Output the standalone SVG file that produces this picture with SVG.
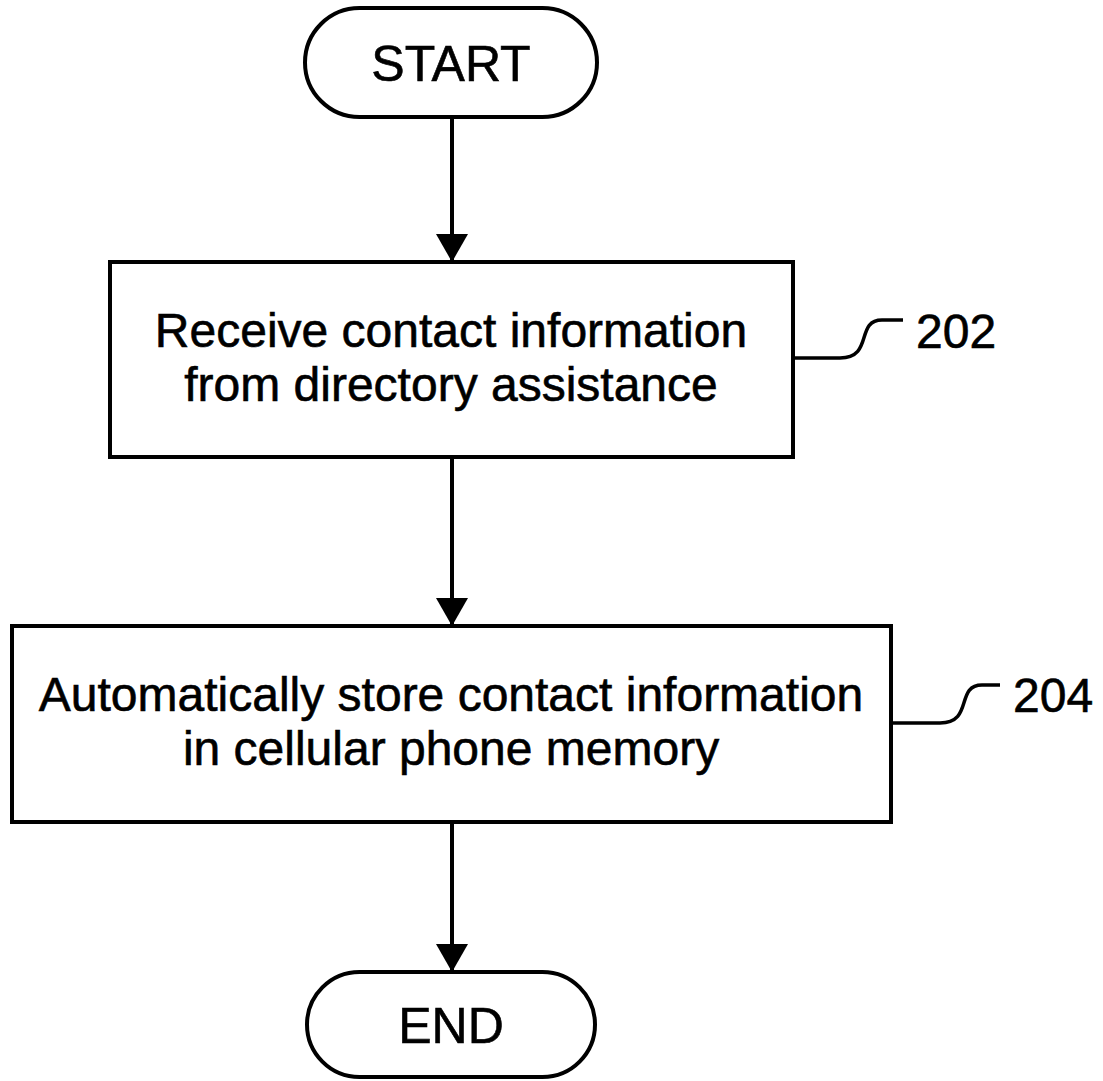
<svg xmlns="http://www.w3.org/2000/svg" width="1103" height="1081" viewBox="0 0 1103 1081">
<defs>
<style>
.shape{fill:#fff;stroke:#000;stroke-width:4}
.line{fill:none;stroke:#000;stroke-width:4}
.lead{fill:none;stroke:#000;stroke-width:3.5}
text{font-family:"Liberation Sans",Arial,sans-serif;fill:#000;stroke:#000;stroke-width:0.6;text-anchor:middle}
.t{font-size:48px}
.term{font-size:50px}
.ref{font-size:48px;text-anchor:start}
</style>
<marker id="arr" markerWidth="30" markerHeight="32" refX="28" refY="16" orient="auto" markerUnits="userSpaceOnUse">
<path d="M0,0 L28,16 L0,32 Z" fill="#000"/>
</marker>
</defs>
<g id="connectors">
<line class="line" x1="452" y1="117" x2="452" y2="262" marker-end="url(#arr)"/>
<line class="line" x1="452" y1="457" x2="452" y2="626" marker-end="url(#arr)"/>
<line class="line" x1="452" y1="822" x2="452" y2="972" marker-end="url(#arr)"/>
</g>
<g id="start">
<rect class="shape" x="305" y="8" width="292" height="109" rx="54.5"/>
<text class="term" x="451" y="81">START</text>
</g>
<g id="step202">
<rect class="shape" x="110" y="262" width="683" height="195"/>
<text class="t" x="451" y="347">Receive contact information</text>
<text class="t" x="451" y="401">from directory assistance</text>
<path class="lead" d="M793,358 L840,358 C874,358 855,320 882,320 L903,320"/>
<text class="ref" x="916" y="348">202</text>
</g>
<g id="step204">
<rect class="shape" x="12" y="626" width="879" height="196"/>
<text class="t" x="451" y="711">Automatically store contact information</text>
<text class="t" x="451" y="765">in cellular phone memory</text>
<path class="lead" d="M891,723 L940,723 C974,723 955,685 982,685 L1000,685"/>
<text class="ref" x="1013" y="712">204</text>
</g>
<g id="end">
<rect class="shape" x="307" y="972" width="288" height="105" rx="52.5"/>
<text class="term" x="451" y="1043">END</text>
</g>
</svg>
